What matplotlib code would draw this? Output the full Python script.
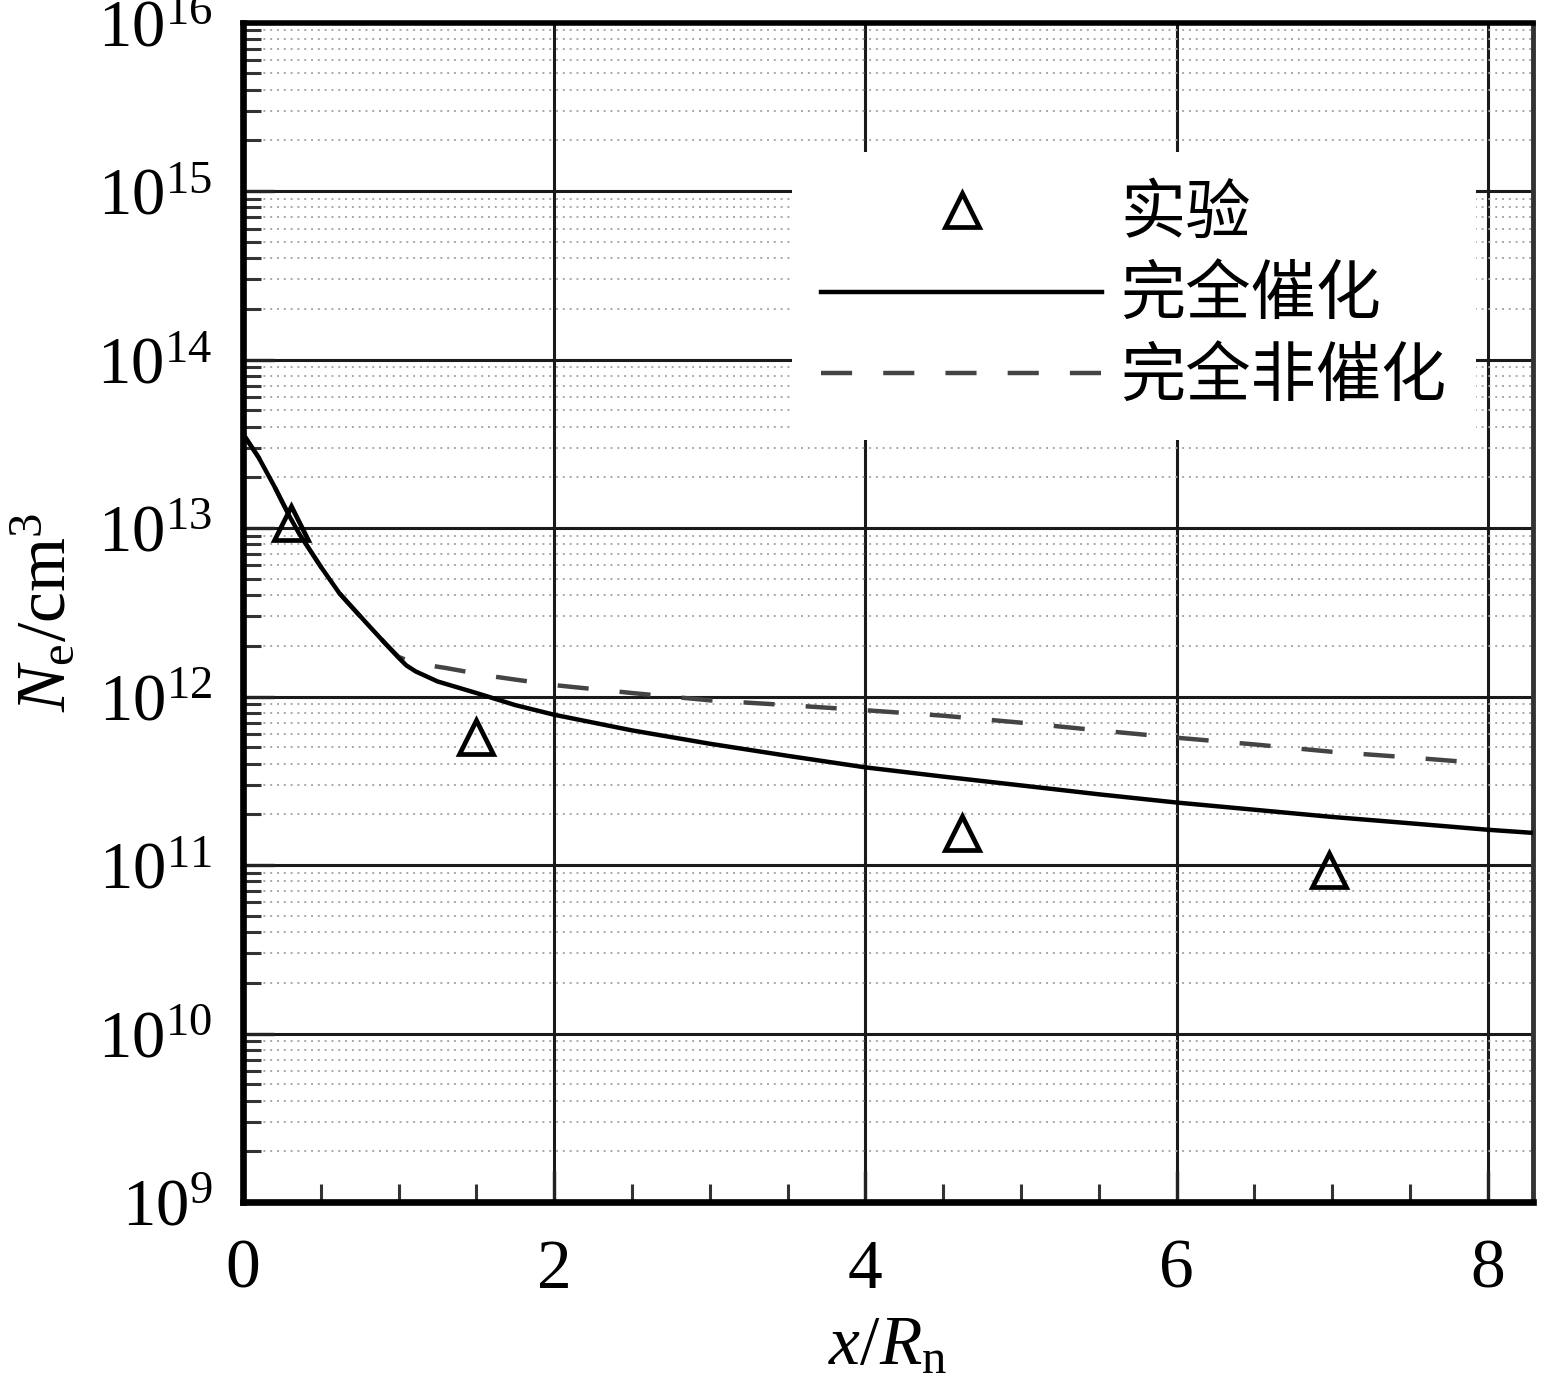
import numpy as np
import matplotlib
matplotlib.use("Agg")
import matplotlib.pyplot as plt
from matplotlib.ticker import LogLocator, LogFormatterMathtext, MultipleLocator, NullFormatter
from matplotlib.font_manager import FontProperties

plt.rcParams['font.family'] = ['Liberation Serif', 'DejaVu Serif']
plt.rcParams['mathtext.fontset'] = 'custom'
plt.rcParams['mathtext.rm'] = 'Liberation Serif'
plt.rcParams['mathtext.it'] = 'Liberation Serif:italic'
plt.rcParams['mathtext.bf'] = 'Liberation Serif:bold'

# ---- data ----
x_cat = [0.0, 0.1, 0.2, 0.3, 0.36, 0.5, 0.62, 0.72, 0.83, 0.92, 1.0, 1.05, 1.11, 1.25, 1.5, 1.75,
         2.0, 2.5, 3.0, 3.5, 4.0, 4.5, 5.0, 5.5, 6.0, 6.5, 7.0, 7.5, 8.0, 8.3]
ne_cat = [3.63e13, 2.63e13, 1.78e13, 1.17e13, 9.3e12, 5.9e12, 4.1e12, 3.24e12, 2.51e12, 2.04e12,
          1.70e12, 1.53e12, 1.41e12, 1.23e12, 1.05e12, 8.9e11, 7.8e11, 6.3e11, 5.25e11,
          4.45e11, 3.8e11, 3.35e11, 2.97e11, 2.63e11, 2.35e11, 2.13e11, 1.93e11, 1.77e11,
          1.62e11, 1.55e11]

x_noncat = [0.0, 0.1, 0.2, 0.3, 0.36, 0.5, 0.62, 0.72, 0.83, 0.92, 1.0, 1.1, 1.3, 1.6, 2.0,
            2.5, 3.0, 3.5, 4.0, 4.5, 5.0, 5.5, 6.0, 6.5, 7.0, 7.5, 8.0]
ne_noncat = [3.63e13, 2.63e13, 1.78e13, 1.17e13, 9.3e12, 5.9e12, 4.1e12, 3.24e12, 2.51e12,
             2.04e12, 1.72e12, 1.58e12, 1.48e12, 1.32e12, 1.17e12, 1.05e12, 9.5e11, 8.9e11,
             8.3e11, 7.7e11, 7.0e11, 6.3e11, 5.7e11, 5.2e11, 4.7e11, 4.35e11, 4.0e11]

x_exp = [0.31, 1.50, 4.62, 6.98]
ne_exp = [1.07e13, 5.75e11, 1.55e11, 9.3e10]

labels = ['实验', '完全催化', '完全非催化']

# ---- figure ----
W, H = 1541, 1390
fig = plt.figure(figsize=(W / 100, H / 100), dpi=100)
ax = fig.add_axes([243 / W, 1 - 1202 / H, (1533 - 243) / W, (1202 - 22.7) / H])

ln_cat, = ax.plot(x_cat, ne_cat, color='black', lw=3.2, zorder=3, label=labels[1])
ln_non, = ax.plot(x_noncat, ne_noncat, color='#444444', lw=3.2, ls=(0, (7, 7)),
                  zorder=2.5, label=labels[2])
pts, = ax.plot(x_exp, ne_exp, ls='none', marker='^', ms=25, mfc='none', mec='black',
               mew=3.4, zorder=4, label=labels[0])

ax.set_yscale('log')
ax.set_ylim(1e9, 1e16)
ax.set_xlim(0, 8.29)

ax.yaxis.set_major_locator(LogLocator(base=10, numticks=100))
ax.yaxis.set_minor_locator(LogLocator(base=10, subs=np.arange(2, 10), numticks=100))
ax.yaxis.set_major_formatter(LogFormatterMathtext())
ax.yaxis.set_minor_formatter(NullFormatter())
ax.xaxis.set_major_locator(MultipleLocator(2))
ax.xaxis.set_minor_locator(MultipleLocator(0.5))

ax.set_axisbelow(True)
ax.grid(which='major', axis='both', color='#1a1a1a', lw=2.2, ls='-')
ax.grid(which='minor', axis='y', color='#a8a8a8', lw=1.4, ls=(0, (1, 2.5)))

ax.tick_params(which='major', direction='in', length=22, width=2.4, top=False,
               right=False, color='#222222')
ax.tick_params(axis='y', which='major', pad=22, labelsize=48)
ax.tick_params(axis='x', which='major', pad=27, labelsize=50)
ax.tick_params(which='minor', direction='in', length=13, width=2.2, top=False,
               right=False, color='#333333')

for s in ['left', 'bottom']:
    ax.spines[s].set_linewidth(4.8)
    ax.spines[s].set_color('black')
ax.spines['top'].set_linewidth(4.0)
ax.spines['right'].set_linewidth(3.5)
ax.spines['right'].set_color('#333333')

ax.set_xlabel(r'$x/R_{\mathrm{n}}$', fontsize=50, labelpad=9)
ax.set_ylabel(r'$N_{\mathrm{e}}/\mathrm{cm}^{3}$', fontsize=50, labelpad=12)

leg = ax.legend([pts, ln_cat, ln_non], labels, loc='upper left',
                bbox_to_anchor=((792 - 243) / 1290, (1202 - 152) / 1179.3),
                borderaxespad=0, frameon=True, fancybox=False, framealpha=1,
                facecolor='white', edgecolor='none', handlelength=4.3,
                handletextpad=0.28, borderpad=0.45, labelspacing=0.23, numpoints=1,
                prop=FontProperties(family=['Noto Sans CJK SC', 'DejaVu Sans'], size=47))

fig.savefig('out.png', dpi=100, facecolor='white')
